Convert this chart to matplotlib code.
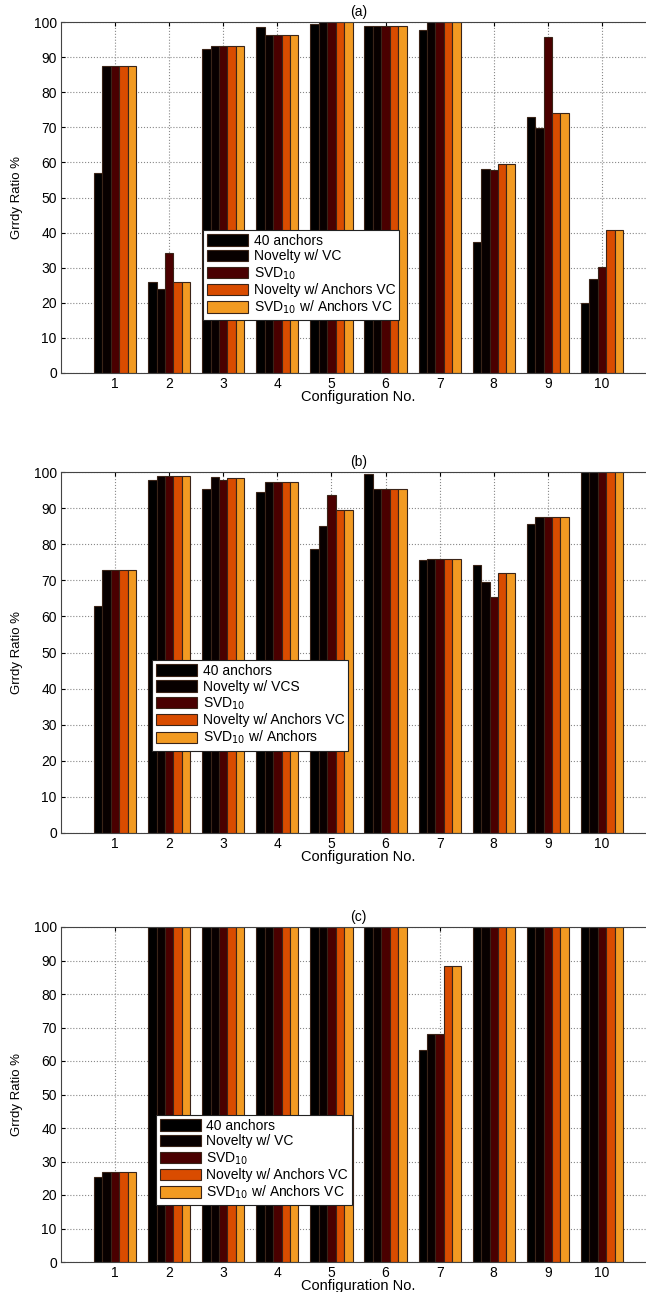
"""Grouped bar charts of greedy ratio per configuration, three panels."""

import matplotlib
matplotlib.use("Agg")
import matplotlib.pyplot as plt
import numpy as np

plt.rcParams["font.family"] = ["Liberation Sans", "DejaVu Sans"]

configs = np.arange(1, 11)

# panel (a)
a_anchors = [57.0, 25.8, 92.2, 98.6, 99.3, 98.9, 97.8, 37.4, 73.0, 20.0]
a_novelty = [87.6, 23.8, 93.1, 96.4, 100, 98.9, 100, 58.2, 69.8, 26.8]
a_svd = [87.6, 34.3, 93.1, 96.4, 100, 98.9, 100, 57.8, 95.7, 30.1]
a_nov_anch = [87.6, 26.0, 93.1, 96.4, 100, 98.9, 100, 59.5, 74.2, 40.7]
a_svd_anch = [87.6, 26.0, 93.1, 96.4, 100, 98.9, 100, 59.5, 74.2, 40.7]

# panel (b)
b_anchors = [62.8, 97.8, 95.3, 94.5, 78.8, 99.5, 75.6, 74.1, 85.6, 100]
b_novelty = [72.8, 99.0, 98.6, 97.3, 85.1, 95.4, 75.8, 69.4, 87.6, 100]
b_svd = [72.8, 99.0, 97.7, 97.3, 93.6, 95.4, 75.8, 65.4, 87.6, 100]
b_nov_anch = [72.8, 99.0, 98.4, 97.3, 89.4, 95.4, 75.8, 71.9, 87.6, 100]
b_svd_anch = [72.8, 99.0, 98.4, 97.3, 89.4, 95.4, 75.8, 71.9, 87.6, 100]

# panel (c)
c_anchors = [25.4, 100, 100, 100, 100, 100, 63.4, 100, 100, 100]
c_novelty = [26.9, 100, 100, 100, 100, 100, 68.2, 100, 100, 100]
c_svd = [26.9, 100, 100, 100, 100, 100, 68.2, 100, 100, 100]
c_nov_anch = [26.9, 100, 100, 100, 100, 100, 88.3, 100, 100, 100]
c_svd_anch = [26.9, 100, 100, 100, 100, 100, 88.3, 100, 100, 100]

labels_a = ["40 anchors", "Novelty w/ VC", "SVD$_{10}$",
            "Novelty w/ Anchors VC", "SVD$_{10}$ w/ Anchors VC"]
labels_b = ["40 anchors", "Novelty w/ VCS", "SVD$_{10}$",
            "Novelty w/ Anchors VC", "SVD$_{10}$ w/ Anchors"]
labels_c = labels_a

colors = ["#000000", "#080000", "#4a0000", "#d94c00", "#f29a22"]

# title, series, legend labels, legend lower-left corner (figure coords)
panels = [
    ("(a)", [a_anchors, a_novelty, a_svd, a_nov_anch, a_svd_anch], labels_a,
     (0.314, 0.752)),
    ("(b)", [b_anchors, b_novelty, b_svd, b_nov_anch, b_svd_anch], labels_b,
     (0.235, 0.419)),
    ("(c)", [c_anchors, c_novelty, c_svd, c_nov_anch, c_svd_anch], labels_c,
     (0.241, 0.067)),
]

# axes rectangles in figure coords (left, bottom, width, height)
rects = [
    (61 / 646, 1 - 373 / 1292, 595 / 646, 351 / 1292),
    (61 / 646, 1 - 833 / 1292, 595 / 646, 361 / 1292),
    (61 / 646, 1 - 1262 / 1292, 595 / 646, 335 / 1292),
]

fig = plt.figure(figsize=(6.46, 12.92), dpi=100)

n = 5
group_w = 0.78
bar_w = group_w / n

for (title, series, labels, leg_xy), rect in zip(panels, rects):
    ax = fig.add_axes(rect)
    for i, vals in enumerate(series):
        x = configs - group_w / 2 + bar_w * (i + 0.5)
        ax.bar(x, vals, width=bar_w, color=colors[i], edgecolor="#3a2418",
               linewidth=0.8, label=labels[i])
    ax.set_xlim(0, 11)
    ax.set_ylim(0, 100)
    ax.set_xticks(configs)
    ax.set_yticks(np.arange(0, 101, 10))
    ax.tick_params(direction="in", top=True, right=True, labelsize=10,
                   length=3, pad=3)
    ax.set_axisbelow(True)
    ax.grid(True, linestyle=":", color="#888888", linewidth=0.8)
    for s in ax.spines.values():
        s.set_color("#444444")
    ax.set_title(title, fontsize=10, pad=4)
    ax.set_xlabel("Configuration No.", fontsize=10.5, labelpad=-1)
    ax.set_ylabel("Grrdy Ratio %", fontsize=9.5, labelpad=8)
    leg = ax.legend(loc="lower left", bbox_to_anchor=leg_xy,
                    bbox_transform=fig.transFigure, fontsize=10,
                    handlelength=2.95, handleheight=0.9, labelspacing=0.12,
                    borderpad=0.3, handletextpad=0.4, fancybox=False,
                    framealpha=1, edgecolor="#222222", borderaxespad=0)
    leg.get_frame().set_linewidth(0.8)

fig.savefig("out.png", dpi=100)
plt.close(fig)
